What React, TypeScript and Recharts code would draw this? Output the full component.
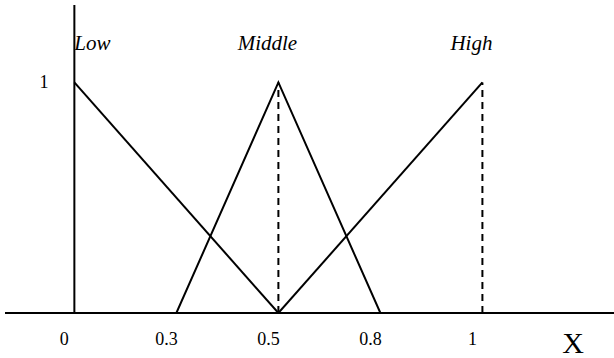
import React from "react";
import {
  LineChart,
  Line,
  XAxis,
  YAxis,
  ReferenceLine,
  ReferenceDot,
} from "recharts";

// x positions are evenly spaced in the drawing, labels are the real values
const positions = [0, 1, 2, 3, 4];
const xLabels = ["0", "0.3", "0.5", "0.8", "1"];

// membership values at each position (null = not part of that set)
const low = [1, null, 0, null, null];
const middle = [null, 0, 1, 0, null];
const high = [null, null, 0, null, 1];

const setNames = ["Low", "Middle", "High"];
const setPeaks = [0, 2, 4];
const dashedPeaks = [2, 4];

const yTicks = [1];

const data = positions.map((pos, i) => ({
  pos,
  low: low[i],
  middle: middle[i],
  high: high[i],
}));

const FONT = "'Liberation Serif', 'Times New Roman', serif";

const XTick = (props: any) => {
  const { x, y, payload } = props;
  return (
    <text x={x - 10} y={y + 32} textAnchor="middle" fontFamily={FONT} fontSize={18} fill="#000">
      {xLabels[payload.value]}
    </text>
  );
};

export default function App() {
  return (
    <div style={{ position: "absolute", left: 0, top: 0 }}>
      <LineChart
        width={614}
        height={358}
        data={data}
        margin={{ top: 5, right: 0, left: 5, bottom: 0 }}
      >
        <XAxis
          dataKey="pos"
          type="number"
          domain={[-0.68, 5.29]}
          ticks={positions}
          allowDataOverflow
          height={45}
          tickSize={0}
          tickMargin={0}
          tickLine={false}
          axisLine={{ stroke: "#000", strokeWidth: 2 }}
          tick={<XTick />}
          interval={0}
          label={{
            content: ({ viewBox }: any) => (
              <text
                x={viewBox.x + viewBox.width - 41}
                y={viewBox.y + 40}
                textAnchor="middle"
                fontFamily={FONT}
                fontSize={30}
                fill="#000"
              >
                X
              </text>
            ),
          }}
        />
        <YAxis type="number" domain={[0, 1.336]} hide allowDataOverflow />
        <ReferenceLine x={0} stroke="#000" strokeWidth={2} />
        {yTicks.map((t) => (
          <ReferenceLine
            key={t}
            y={t}
            stroke="none"
            label={{
              content: ({ viewBox }: any) => (
                <text
                  x={44}
                  y={viewBox.y + 6}
                  textAnchor="middle"
                  fontFamily={FONT}
                  fontSize={18}
                  fill="#000"
                >
                  {t}
                </text>
              ),
            }}
          />
        ))}
        {dashedPeaks.map((p) => (
          <ReferenceLine
            key={p}
            segment={[
              { x: p, y: 0 },
              { x: p, y: 1 },
            ]}
            stroke="#000"
            strokeWidth={2}
            strokeDasharray="7 5"
          />
        ))}
        <Line type="linear" dataKey="low" stroke="#000" strokeWidth={2} dot={false} connectNulls isAnimationActive={false} />
        <Line type="linear" dataKey="middle" stroke="#000" strokeWidth={2} dot={false} connectNulls isAnimationActive={false} />
        <Line type="linear" dataKey="high" stroke="#000" strokeWidth={2} dot={false} connectNulls isAnimationActive={false} />
        {setNames.map((name, i) => (
          <ReferenceDot
            key={name}
            x={setPeaks[i]}
            y={1.17}
            r={0}
            fill="none"
            stroke="none"
            label={{
              content: ({ viewBox }: any) => (
                <text
                  x={i === 0 ? viewBox.x : viewBox.x - 11}
                  y={viewBox.y + 7}
                  textAnchor={i === 0 ? "start" : "middle"}
                  fontFamily={FONT}
                  fontStyle="italic"
                  fontSize={21}
                  fill="#000"
                >
                  {name}
                </text>
              ),
            }}
          />
        ))}
      </LineChart>
    </div>
  );
}
